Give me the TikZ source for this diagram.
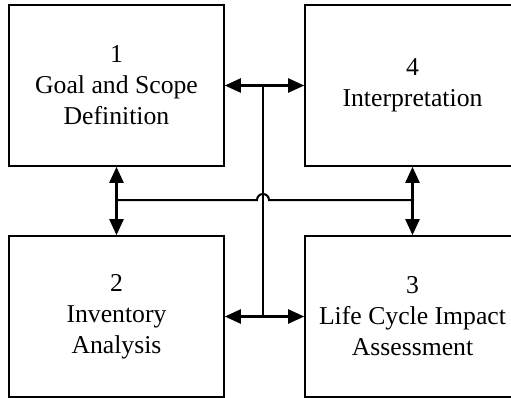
\documentclass[tikz,border=0pt]{standalone}
\usepackage{fontspec}
\setmainfont{Liberation Serif}
\usetikzlibrary{arrows.meta}

\begin{document}
\begin{tikzpicture}[
  x=1pt, y=-1pt,
  stage/.style={draw, line width=1.6pt, minimum width=215pt, minimum height=161pt, align=center, inner sep=0pt, font=\fontsize{25.7}{31}\selectfont},
  link/.style={line width=2.4pt, {Triangle[length=16pt,width=14pt]}-{Triangle[length=16pt,width=14pt]}},
  wire/.style={line width=2pt}
]
\clip (0,0) rectangle (511,397);
\node[stage] (goal) at (116.5,85.5) {1\\Goal and Scope\\Definition};
\node[stage] (interp) at (412.5,85.5) {4\\Interpretation};
\node[stage] (inv) at (116.5,316.5) {2\\Inventory\\Analysis};
\node[stage] (impact) at (412.5,316.5) {3\\Life Cycle Impact\\Assessment};
\coordinate (jl) at (116.5,200);
\coordinate (jr) at (412.5,200);
\coordinate (hop) at (263,200);
\draw[link] (goal) -- (interp);
\draw[link] (inv) -- (impact);
\draw[link] (goal) -- (inv);
\draw[link] (interp) -- (impact);
\draw[wire] (goal -| hop) -- (inv -| hop);
\draw[wire] (jl) -- ([xshift=-6pt]hop) arc (180:360:6) -- (jr);
\end{tikzpicture}
\end{document}
